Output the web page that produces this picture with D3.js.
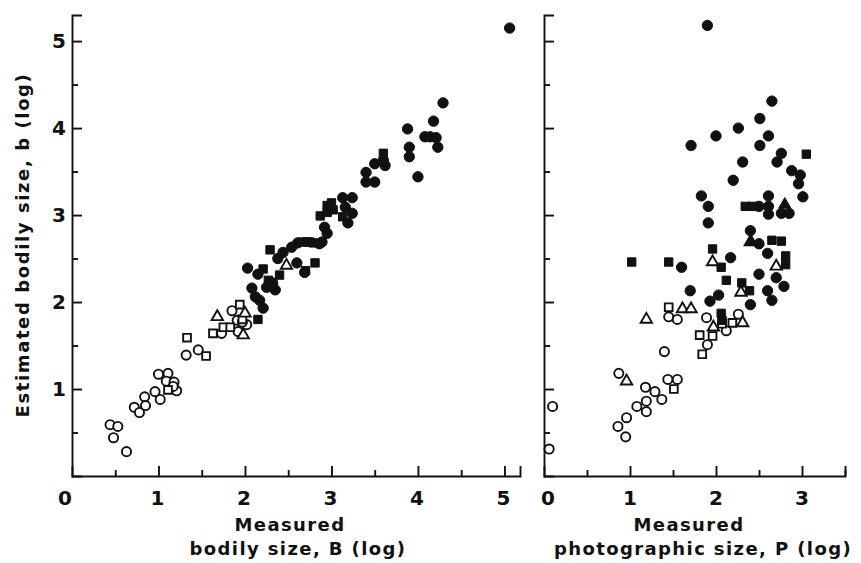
<!DOCTYPE html>
<html>
<head>
<meta charset="utf-8">
<script src="https://cdn.jsdelivr.net/npm/d3@7"></script>
<style>
  body { margin: 0; background: #fff; }
  svg text { font-family: "DejaVu Sans", sans-serif; font-weight: bold; fill: #111; }
</style>
</head>
<body>
<svg id="chart" width="861" height="563"></svg>
<script>
// tick labels
var leftXTicks = [0, 1, 2, 3, 4, 5];
var rightXTicks = [0, 1, 2, 3];
var yTicks = [1, 2, 3, 4, 5];

// left panel: measured bodily size B vs estimated b
var leftOpenCircle = [
    [0.44, 0.59], [0.53, 0.57], [0.48, 0.44], [0.63, 0.28], [0.72, 0.79], [0.78, 0.73],
    [0.84, 0.91], [0.85, 0.81], [0.96, 0.97], [1.02, 0.88], [1.00, 1.17], [1.11, 1.18],
    [1.09, 1.09], [1.18, 1.08], [1.21, 0.98], [1.17, 1.03], [1.32, 1.39], [1.46, 1.45],
    [1.73, 1.64], [1.85, 1.90], [1.91, 1.79], [1.92, 1.66], [2.02, 1.74], [1.97, 1.77]
];
var leftOpenSquare = [
    [1.11, 0.99], [1.33, 1.59], [1.55, 1.38], [1.63, 1.64], [1.75, 1.71], [1.83, 1.71],
    [1.94, 1.97], [1.97, 1.80]
];
var leftOpenTriangle = [
    [1.68, 1.83], [2.00, 1.87], [1.98, 1.62], [2.48, 2.42]
];
var leftFilledCircle = [
    [2.03, 2.39], [2.15, 2.32], [2.08, 2.16], [2.21, 1.93], [2.25, 2.17], [2.32, 2.22],
    [2.17, 2.02], [2.12, 2.06], [2.35, 2.14], [2.38, 2.50], [2.44, 2.57], [2.54, 2.63],
    [2.61, 2.68], [2.60, 2.45], [2.69, 2.34], [2.86, 2.67], [2.92, 2.86], [2.95, 2.79],
    [2.89, 2.69], [3.19, 2.91], [3.13, 3.20], [3.24, 3.20], [3.16, 3.09], [3.24, 3.02],
    [3.40, 3.49], [3.40, 3.38], [3.50, 3.38], [3.50, 3.59], [3.62, 3.57], [3.60, 3.63],
    [3.90, 3.78], [3.90, 3.67], [3.88, 3.99], [4.00, 3.44], [4.08, 3.90], [4.14, 3.90],
    [4.21, 3.89], [4.23, 3.78], [4.18, 4.08], [4.29, 4.29], [5.06, 5.15]
];
var leftFilledSquare = [
    [2.21, 2.38], [2.15, 1.80], [2.29, 2.60], [2.72, 2.69], [2.79, 2.68], [2.70, 2.36],
    [2.81, 2.45], [2.87, 2.99], [2.95, 3.11], [3.00, 3.14], [3.02, 3.06], [2.95, 3.03],
    [3.13, 2.98], [3.60, 3.71], [2.67, 2.69], [2.75, 2.69], [2.27, 2.25], [2.40, 2.31]
];

// right panel: measured photographic size P vs estimated b
var rightOpenCircle = [
    [0.10, 0.80], [0.06, 0.31], [0.87, 1.18], [0.86, 0.57], [0.96, 0.67], [0.95, 0.45],
    [1.08, 0.80], [1.19, 0.86], [1.19, 0.74], [1.18, 1.02], [1.29, 0.97], [1.37, 0.88],
    [1.40, 1.43], [1.44, 1.11], [1.55, 1.11], [1.90, 1.51], [1.45, 1.83], [1.55, 1.80],
    [1.89, 1.82], [2.12, 1.67], [2.26, 1.86]
];
var rightOpenSquare = [
    [1.51, 1.00], [1.84, 1.40], [1.96, 1.61], [1.81, 1.62], [1.45, 1.94], [2.19, 1.76],
    [2.07, 1.75]
];
var rightOpenTriangle = [
    [0.96, 1.09], [1.19, 1.80], [1.61, 1.92], [1.71, 1.92], [1.97, 1.71], [2.31, 1.76],
    [1.96, 2.46], [2.29, 2.11], [2.40, 2.69], [2.70, 2.41]
];
var rightFilledCircle = [
    [1.90, 5.18], [2.65, 4.31], [2.51, 4.11], [2.26, 4.00], [2.61, 3.91], [2.00, 3.91],
    [1.71, 3.80], [2.51, 3.80], [2.76, 3.71], [2.71, 3.61], [2.31, 3.61], [2.88, 3.51],
    [2.98, 3.46], [2.96, 3.36], [2.20, 3.40], [3.01, 3.21], [1.83, 3.22], [1.91, 3.10],
    [2.61, 3.22], [2.61, 3.10], [2.61, 3.01], [2.76, 3.02], [2.85, 3.02], [1.91, 2.91],
    [2.40, 2.82], [1.60, 2.40], [1.70, 2.13], [1.93, 2.01], [2.03, 2.08], [2.17, 2.51],
    [2.40, 1.97], [2.50, 2.67], [2.60, 2.56], [2.50, 2.32], [2.70, 2.28], [2.79, 2.18],
    [2.60, 2.13], [2.65, 2.02], [2.50, 3.10]
];
var rightFilledSquare = [
    [1.02, 2.46], [1.45, 2.46], [3.05, 3.70], [2.34, 3.10], [2.42, 3.10], [1.96, 2.61],
    [2.06, 2.40], [2.12, 2.25], [2.30, 2.22], [2.39, 2.13], [2.06, 1.87], [2.07, 1.79],
    [2.65, 2.71], [2.76, 2.70], [2.81, 2.53], [2.81, 2.43]
];
var rightFilledTriangle = [
    [2.80, 3.12], [2.41, 2.69]
];

var svg = d3.select('#chart');

var y = d3.scaleLinear().domain([0, 5.3]).range([476, 15]);
var xL = d3.scaleLinear().domain([0, 5.18]).range([72, 520]);
var xR = d3.scaleLinear().domain([0, 3.5]).range([544, 845]);

var majorY = d3.range(1, 5.01, 1);
var minorY = d3.range(0.5, 5, 1);

var draw_axes = function(x, xMajor, xMinor) {
    var x0 = x.range()[0];
    var gx = svg.append('g').attr('transform', 'translate(0,476)');
    gx.call(d3.axisBottom(x).tickValues(xMajor).tickSize(-10).tickFormat(''));
    gx.append('g').call(d3.axisBottom(x).tickValues(xMinor).tickSize(-6).tickFormat(''))
        .select('.domain').remove();

    var gy = svg.append('g').attr('transform', 'translate(' + x0 + ',0)');
    gy.call(d3.axisLeft(y).tickValues(majorY).tickSize(-10).tickFormat(''));
    gy.append('g').call(d3.axisLeft(y).tickValues(minorY).tickSize(-6).tickFormat(''))
        .select('.domain').remove();

    svg.selectAll('.domain, .tick line')
        .attr('stroke', '#111').attr('stroke-width', 1.9);
};

draw_axes(xL, d3.range(1, 5.01, 1), d3.range(0.5, 5, 1));
draw_axes(xR, d3.range(1, 3.01, 1), d3.range(0.5, 3.6, 1));

// tick labels
svg.append('g').selectAll('text')
    .data(leftXTicks).enter().append('text')
    .attr('x', function(d) { return d === 0 ? xL(d) - 7 : xL(d) - 1; })
    .attr('y', 505)
    .attr('text-anchor', 'middle')
    .style('font-size', '20px')
    .text(function(d) { return d; });

svg.append('g').selectAll('text')
    .data(rightXTicks).enter().append('text')
    .attr('x', function(d) { return d === 0 ? xR(d) + 4 : xR(d); })
    .attr('y', 505)
    .attr('text-anchor', 'middle')
    .style('font-size', '20px')
    .text(function(d) { return d; });

svg.append('g').selectAll('text')
    .data(yTicks).enter().append('text')
    .attr('x', 66)
    .attr('y', function(d) { return y(d) + 7; })
    .attr('text-anchor', 'end')
    .style('font-size', '20px')
    .text(function(d) { return d; });

// axis titles
var title = function(x, yy, txt) {
    svg.append('text')
        .attr('x', x).attr('y', yy)
        .attr('text-anchor', 'middle')
        .style('font-size', '18px')
        .style('letter-spacing', '1.4px')
        .text(txt);
};
title(290, 531, 'Measured');
title(298, 555, 'bodily size, B (log)');
title(689, 531, 'Measured');
title(703, 555, 'photographic size, P (log)');

svg.append('text')
    .attr('transform', 'translate(29,245) rotate(-90)')
    .attr('text-anchor', 'middle')
    .style('font-size', '18px')
    .style('letter-spacing', '1.6px')
    .text('Estimated bodily size, b (log)');

// markers
var add_points = function(x, data, shape, filled) {
    var size;
    if (shape === d3.symbolTriangle) size = filled ? 64 : 56;
    else if (shape === d3.symbolSquare) size = filled ? 70 : 60;
    else size = filled ? 84 : 66;
    svg.append('g').selectAll('path')
        .data(data).enter().append('path')
        .attr('transform', function(d) {
            return 'translate(' + x(d[0]) + ',' + y(d[1]) + ')';
        })
        .attr('d', d3.symbol().type(shape).size(size))
        .attr('fill', filled ? '#111' : '#fff')
        .attr('stroke', '#111')
        .attr('stroke-width', filled ? 1 : 1.9);
};

add_points(xL, leftOpenCircle, d3.symbolCircle, false);
add_points(xL, leftOpenSquare, d3.symbolSquare, false);
add_points(xL, leftOpenTriangle, d3.symbolTriangle, false);
add_points(xL, leftFilledCircle, d3.symbolCircle, true);
add_points(xL, leftFilledSquare, d3.symbolSquare, true);

add_points(xR, rightOpenCircle, d3.symbolCircle, false);
add_points(xR, rightOpenSquare, d3.symbolSquare, false);
add_points(xR, rightOpenTriangle, d3.symbolTriangle, false);
add_points(xR, rightFilledCircle, d3.symbolCircle, true);
add_points(xR, rightFilledSquare, d3.symbolSquare, true);
add_points(xR, rightFilledTriangle, d3.symbolTriangle, true);
</script>
</body>
</html>
